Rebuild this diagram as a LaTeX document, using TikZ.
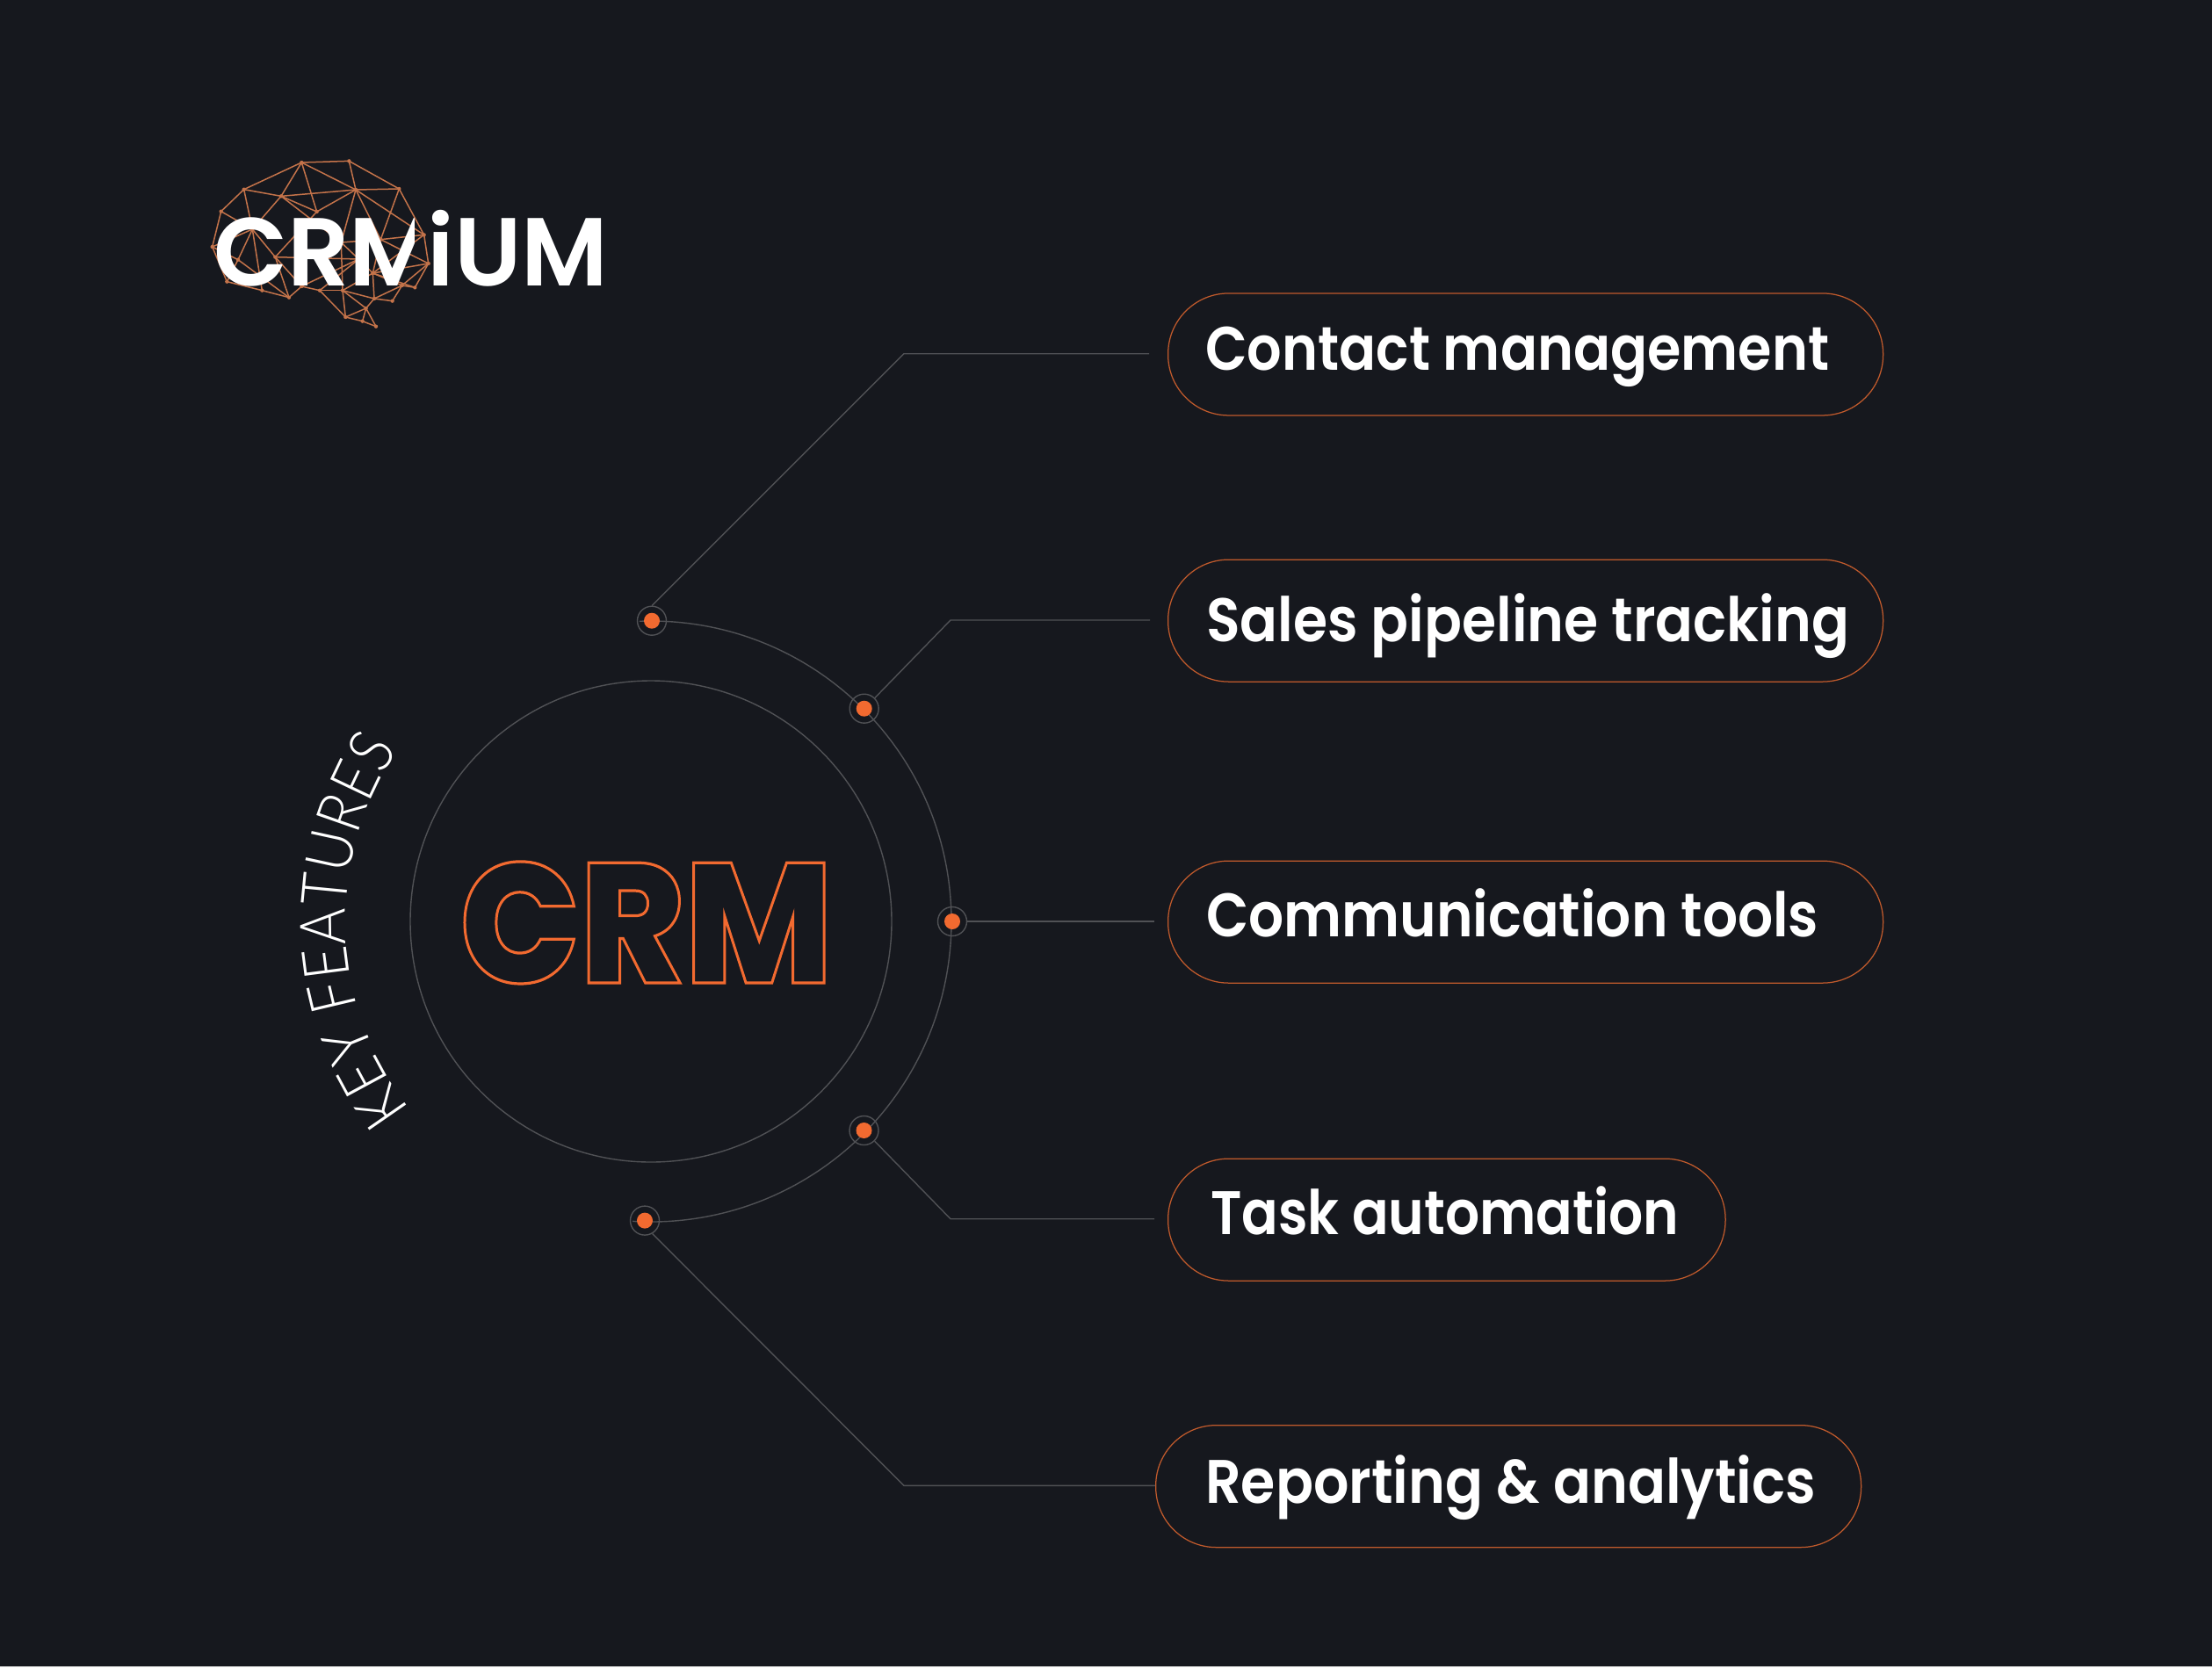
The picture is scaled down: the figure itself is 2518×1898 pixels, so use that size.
\documentclass[tikz,border=0pt]{standalone}
\usepackage{fontspec}
\usetikzlibrary{decorations.text}
\setmainfont{Poppins}[UprightFont=* Medium,BoldFont=* SemiBold]
\newfontfamily\lightfont{Lato Light}[FakeStretch=0.88]
\newfontfamily\heavyfont{Poppins SemiBold}
\newfontfamily\blackfont{Poppins ExtraBold}
\definecolor{bgdark}{HTML}{16181E}
\definecolor{accent}{HTML}{F26A30}
\definecolor{pillline}{HTML}{C05A2C}
\definecolor{hairline}{HTML}{505155}
\definecolor{brainc}{HTML}{C4734A}
\newcommand{\outlinetext}[2]{\special{pdf:code 1 Tr #1 w}#2\special{pdf:code 0 Tr 1 w}}
\newcommand{\fitlab}[2]{\resizebox{#1pt}{\height}{#2}}
\tikzset{
  pill/.style={draw=pillline,line width=1.25pt,rounded corners=69pt,minimum height=139pt,anchor=north west,inner sep=0pt},
  lab/.style={anchor=base west,inner sep=0pt,text=white,font=\heavyfont\fontsize{70}{70}\selectfont},
  hair/.style={draw=hairline,line width=1.4pt},
  ringmark/.style={circle,draw=hairline,line width=1.4pt,minimum size=33pt,inner sep=0pt},
  dotmark/.style={circle,fill=accent,minimum size=18pt,inner sep=0pt},
  brainedge/.style={draw=brainc,line width=1.5pt},
}
\begin{document}
\begin{tikzpicture}[x=1pt,y=-1pt]
\useasboundingbox (0,0) rectangle (2518,1898);
\fill[bgdark] (0,0) rectangle (2518,1898);
\fill[black!20] (0,1897) rectangle (2518,1898);

% brain network (zoom-crop coordinates)
\def\brainnet{%
  \foreach \n/\px/\py in {a/400/105,b/562/100,c/733/195,d/585/198,e/203/197,f/330/220,g/452/273,h/125/272,i/95/393,j/145/512,k/265/542,l/357/566,m/400/528,n/462/542,o/540/542,p/620/603,q/550/633,r/608/647,s/654/665,t/648/570,u/710/578,v/743/525,w/787/532,x/833/450,y/818/352,z/670/368,A/643/483,B/310/428,C/183/437,D/232/333,E/535/378,F/595/435}
    {\coordinate (\n) at (\px,\py); \fill[brainc] (\n) circle[radius=6.5];}
  \foreach \s/\t in {a/b,b/c,a/e,e/h,h/i,i/j,j/k,k/l,l/m,m/n,n/o,n/q,q/r,r/s,p/s,p/q,p/r,o/p,o/q,p/t,t/u,u/v,v/w,w/x,x/y,y/c,c/d,d/b,a/d,a/f,a/g,d/f,e/f,f/g,g/d,e/D,f/D,h/D,i/D,D/C,D/k,D/B,B/g,B/F,j/C,i/C,C/l,c/z,d/y,d/z,d/E,E/z,z/y,E/F,F/A,E/o,z/x,A/x,A/z,A/w,A/v,A/t,A/o,t/o,B/l,B/m,m/F,f/E,n/F,t/v,y/A,x/v}
    {\draw[brainedge] (\s) -- (\t);}
}
\begin{scope}[x=.33333pt,y=-.33333pt,shift={(630,450)}]
  \brainnet
\end{scope}
\node[anchor=base west,inner sep=0pt,text=white,font=\heavyfont\fontsize{110}{110}\selectfont] (logo) at (243,325)
  {\resizebox{449pt}{\height}{CRM\kern-10pt iUM}};
% right stem of first M is masked in the reference, with the net visible through it
\begin{scope}
  \clip (472,245) rectangle (489,330);
  \fill[bgdark] (472,245) rectangle (489,330);
  \begin{scope}[x=.33333pt,y=-.33333pt,shift={(630,450)}]
    \brainnet
  \end{scope}
\end{scope}

% circles
\node[circle,hair,minimum size=548pt,inner sep=0pt] (core) at (741,1049) {};
\draw[hair] (727.9,707.3) arc[start angle=92.2,end angle=-93.5,radius=342pt];

% CRM outlined
\node[anchor=base west,inner sep=0pt,text=accent] (crm) at (523,1119)
  {\resizebox{425pt}{\height}{\fontsize{194}{194}\blackfont\outlinetext{3.2}{CRM}}};

% KEY FEATURES along arc
\path[decorate,decoration={text along path,text color=white,text align={fit to path},
   text={|\lightfont\fontsize{72}{72}\selectfont|KEY FEATURES}}]
   (467,1263) arc[start angle=218,end angle=146,radius=348pt];

% pills
\node[pill,minimum width=814pt] (p1) at (1329,333.3) {};
\node[pill,minimum width=814pt] (p2) at (1329,636.5) {};
\node[pill,minimum width=814pt] (p3) at (1329,979.5) {};
\node[pill,minimum width=634.5pt] (p4) at (1329,1318.5) {};
\node[pill,minimum width=803pt] (p5) at (1315,1622) {};

\node[lab] (t1) at (1372,421.7) {\fitlab{710}{Contact management}};
\node[lab] (t2) at (1373,730.7) {\fitlab{732}{Sales pipeline tracking}};
\node[lab] (t3) at (1373,1066) {\fitlab{697}{Communication tools}};
\node[lab] (t4) at (1378,1405.7) {\fitlab{533}{Task automation}};
\node[lab] (t5) at (1372,1711) {\fitlab{695}{Reporting \& analytics}};

% markers
\foreach \m/\px/\py in {d1/742/706.7,d2/983.7/806.7,d3/1084/1049,d4/983.5/1287,d5/734/1389.6}{
  \node[ringmark] (\m) at (\px,\py) {};
  \node[dotmark] at (\px,\py) {};
}

% connectors
\coordinate (c1) at (1029,402.7); \coordinate (e1) at (1308,402.7);
\coordinate (c2) at (1082,706);   \coordinate (e2) at (1309,706);
\coordinate (e3) at (1314,1049);
\coordinate (c4) at (1082,1387.7);\coordinate (e4) at (1314,1387.7);
\coordinate (c5) at (1029,1691.4);\coordinate (e5) at (1315,1691.4);
\draw[hair] (d1.north) -- (c1) -- (e1);
\draw[hair] (d2.north east) -- (c2) -- (e2);
\draw[hair] (d3.east) -- (e3);
\draw[hair] (d4.south east) -- (c4) -- (e4);
\draw[hair] (d5.-60) -- (c5) -- (e5);
\end{tikzpicture}
\end{document}
